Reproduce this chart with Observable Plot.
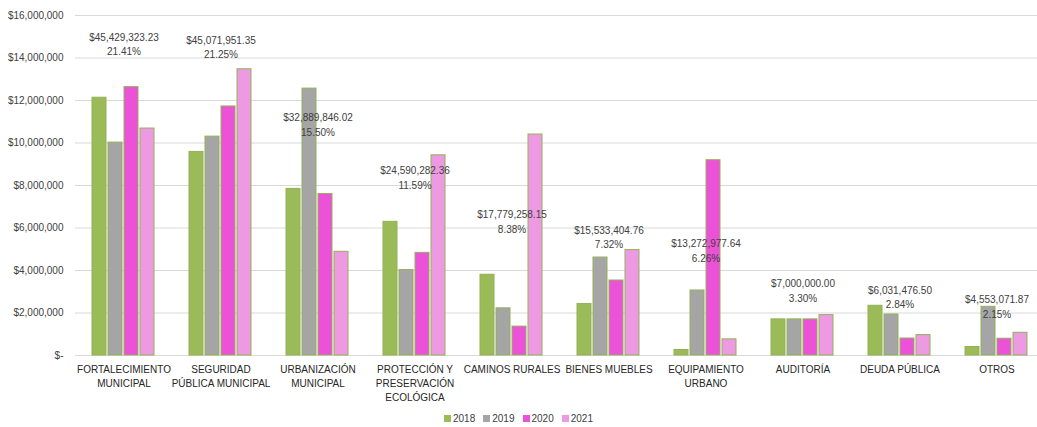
<!DOCTYPE html>
<html>
<head>
<meta charset="utf-8">
<script src="https://cdn.jsdelivr.net/npm/d3@7"></script>
<script src="https://cdn.jsdelivr.net/npm/@observablehq/plot@0.6"></script>
<style>
  html, body { margin: 0; padding: 0; background: #fff; }
  body { width: 1037px; height: 427px; overflow: hidden; font-family: "Liberation Sans", Arial, sans-serif; }
  #chart { width: 1037px; height: 410px; overflow: hidden; }
  #legend { width: 1037px; display: flex; justify-content: center; gap: 8px; font-size: 10px; color: #404040; height: 17px; align-items: center; }
  #legend span.item { display: inline-flex; align-items: center; gap: 2px; }
  #legend span.sw { display: inline-block; width: 7px; height: 7px; }
</style>
</head>
<body>
<div id="chart"></div>
<div id="legend"></div>
<script>
const categories = ["FORT", "SEG", "URB", "PROT", "CAM", "BIEN", "EQUIP", "AUD", "DEUDA", "OTROS"];
const categoryLabels = [
  "FORTALECIMIENTO\nMUNICIPAL",
  "SEGURIDAD\nPÚBLICA MUNICIPAL",
  "URBANIZACIÓN\nMUNICIPAL",
  "PROTECCIÓN Y\nPRESERVACIÓN\nECOLÓGICA",
  "CAMINOS RURALES",
  "BIENES MUEBLES",
  "EQUIPAMIENTO\nURBANO",
  "AUDITORÍA",
  "DEUDA PÚBLICA",
  "OTROS"
];
const years = ["2018", "2019", "2020", "2021"];
const colors = ["#9BBB59", "#A5A5A5", "#EC52D7", "#EE9AE2"];

const v2018 = [12130000, 9580000, 7840000, 6290000, 3800000, 2420000, 260000, 1700000, 2340000, 400000];
const v2019 = [10020000, 10300000, 12560000, 4020000, 2220000, 4610000, 3060000, 1700000, 1930000, 2290000];
const v2020 = [12630000, 11720000, 7600000, 4830000, 1360000, 3530000, 9190000, 1700000, 800000, 790000];
const v2021 = [10680000, 13470000, 4880000, 9420000, 10400000, 4960000, 760000, 1900000, 960000, 1070000];

const totals = [45429323.23, 45071951.35, 32889846.02, 24590282.36, 17779258.15, 15533404.76, 13272977.64, 7000000.00, 6031476.50, 4553071.87];
const percents = [21.41, 21.25, 15.50, 11.59, 8.38, 7.32, 6.26, 3.30, 2.84, 2.15];
// vertical placement of each total label (in $ on the value axis)
const labelLevels = [15010000, 14870000, 11220000, 8720000, 6660000, 5940000, 5290000, 3410000, 3110000, 2670000];

const yTicks = [0, 2000000, 4000000, 6000000, 8000000, 10000000, 12000000, 14000000, 16000000];

const series = [v2018, v2019, v2020, v2021];
const bars = [];
categories.forEach((c, i) => {
  years.forEach((y, j) => bars.push({cat: c, year: y, value: series[j][i]}));
});
const labels = categories.map((c, i) => ({
  cat: c,
  level: labelLevels[i],
  text: d3.format("$,.2f")(totals[i]) + "\n" + percents[i].toFixed(2) + "%"
}));
const catText = categories.map((c, i) => ({cat: c, text: categoryLabels[i]}));

const fmtY = v => v === 0 ? "$-" : "$" + d3.format(",")(v);

const chart = Plot.plot({
  width: 1047,
  height: 410,
  marginLeft: 73,
  marginRight: 0,
  marginTop: 15,
  marginBottom: 55,
  style: {fontFamily: "'Liberation Sans', Arial, sans-serif", fontSize: "10px", color: "#404040", background: "#fff"},
  fx: {domain: categories, padding: 0, axis: null},
  x: {domain: years, paddingInner: 0.12, paddingOuter: 1.03, axis: null},
  y: {domain: [0, 16000000], ticks: yTicks, tickFormat: fmtY, label: null},
  color: {domain: years, range: colors},
  marks: [
    Plot.gridY(yTicks, {stroke: "#d9d9d9", strokeOpacity: 1, strokeWidth: 1}),
    Plot.axisY(yTicks, {tickSize: 0, tickPadding: 12, tickFormat: fmtY, label: null, fill: "#404040"}),
    Plot.barY(bars, {fx: "cat", x: "year", y: "value", fill: "year", stroke: "#93b156", strokeWidth: 1}),
    Plot.text(labels, {fx: "cat", y: "level", text: "text", lineAnchor: "top", dy: -6, lineHeight: 1.45, fill: "#404040", fontSize: 10}),
    Plot.text(catText, {fx: "cat", text: "text", frameAnchor: "bottom", lineAnchor: "top", dy: 8, lineHeight: 1.4, fill: "#262626", fontSize: 10})
  ]
});
chart.style.maxWidth = "none";
chart.style.width = "1047px";
chart.style.height = "410px";
chart.style.display = "block";
document.getElementById("chart").appendChild(chart);

const legend = document.getElementById("legend");
years.forEach((y, i) => {
  const item = document.createElement("span");
  item.className = "item";
  const sw = document.createElement("span");
  sw.className = "sw";
  sw.style.background = colors[i];
  item.appendChild(sw);
  const t = document.createElement("span");
  t.textContent = y;
  item.appendChild(t);
  legend.appendChild(item);
});
</script>
</body>
</html>
